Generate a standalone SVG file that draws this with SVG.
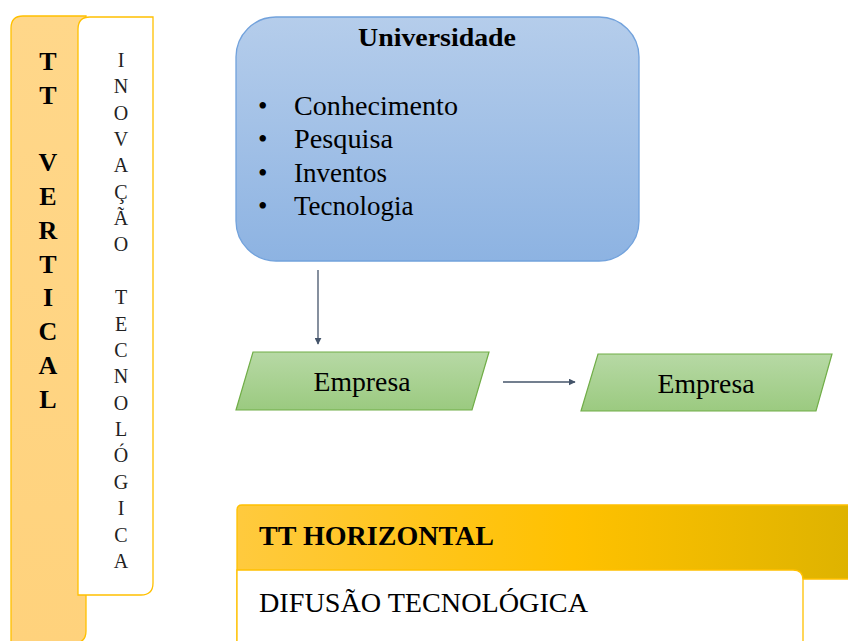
<svg xmlns="http://www.w3.org/2000/svg" width="848" height="641" viewBox="0 0 848 641">
<defs>
<linearGradient id="gBlue" x1="0" y1="0" x2="0" y2="1"><stop offset="0" stop-color="#B5CDEB"/><stop offset="1" stop-color="#8DB3E2"/></linearGradient>
<linearGradient id="gGreen" x1="0" y1="0" x2="0" y2="1"><stop offset="0" stop-color="#B7D9A5"/><stop offset="1" stop-color="#9BCA80"/></linearGradient>
<linearGradient id="gOrange" x1="0" y1="0" x2="0" y2="1"><stop offset="0" stop-color="#FFD78A"/><stop offset="1" stop-color="#FFD27C"/></linearGradient>
<linearGradient id="gGold" x1="0" y1="0" x2="1" y2="0"><stop offset="0" stop-color="#FFCA3E"/><stop offset="0.55" stop-color="#FFC100"/><stop offset="1" stop-color="#DEB300"/></linearGradient>
<marker id="arr" viewBox="0 0 10 10" refX="9" refY="5" markerWidth="7" markerHeight="7" markerUnits="userSpaceOnUse" orient="auto"><path d="M0,0 L10,5 L0,10 z" fill="#44546A"/></marker>
</defs>
<style>
.serif{font-family:"Liberation Serif","Times New Roman",serif;fill:#000}
.b{font-weight:bold}
.vt{font-size:26px;font-weight:bold;text-anchor:middle}
.vi{font-size:20px;text-anchor:middle;fill:#222}
.lst{font-size:27px}
.conn{stroke:#44546A;stroke-width:1.3;fill:none;marker-end:url(#arr)}
.para{fill:url(#gGreen);stroke:#70AD47;stroke-width:1.2}
.gold{stroke:#FFC000;stroke-width:1.3}
</style>
<rect width="848" height="641" fill="#fff"/>

<g id="tt-vertical">
<path d="M11,645 V28 Q11,16 23,16 H86 V631 Q86,643 74,643 Z" fill="url(#gOrange)" class="gold"/>
<g class="serif vt">
<text x="48" y="70">T</text>
<text x="48" y="104">T</text>
<text x="48" y="171">V</text>
<text x="48" y="205">E</text>
<text x="48" y="239">R</text>
<text x="48" y="273">T</text>
<text x="48" y="306">I</text>
<text x="48" y="340">C</text>
<text x="48" y="374">A</text>
<text x="48" y="408">L</text>
</g>
</g>

<g id="inovacao">
<path d="M78,595 V29 Q78,17 90,17 H153 V583 Q153,595 141,595 Z" fill="#fff" class="gold"/>
<g class="serif vi">
<text x="121" y="67">I</text>
<text x="121" y="93">N</text>
<text x="121" y="120">O</text>
<text x="121" y="146">V</text>
<text x="121" y="172">A</text>
<text x="121" y="199">Ç</text>
<text x="121" y="225">Ã</text>
<text x="121" y="251">O</text>
<text x="121" y="304">T</text>
<text x="121" y="331">E</text>
<text x="121" y="357">C</text>
<text x="121" y="383">N</text>
<text x="121" y="410">O</text>
<text x="121" y="436">L</text>
<text x="121" y="462">Ó</text>
<text x="121" y="489">G</text>
<text x="121" y="515">I</text>
<text x="121" y="542">C</text>
<text x="121" y="568">A</text>
</g>
</g>

<g id="universidade">
<rect x="236" y="17" width="403" height="244" rx="40" ry="40" fill="url(#gBlue)" stroke="#72A2DC" stroke-width="1.3"/>
<text x="437" y="46" class="serif b" font-size="25" text-anchor="middle" textLength="158" lengthAdjust="spacingAndGlyphs">Universidade</text>
<g class="serif lst">
<text x="258" y="115">•</text>
<text x="294" y="115" textLength="164" lengthAdjust="spacingAndGlyphs">Conhecimento</text>
<text x="258" y="148">•</text>
<text x="294" y="148" textLength="99" lengthAdjust="spacingAndGlyphs">Pesquisa</text>
<text x="258" y="182">•</text>
<text x="294" y="182">Inventos</text>
<text x="258" y="215">•</text>
<text x="294" y="215">Tecnologia</text>
</g>
</g>

<g id="empresa1">
<polygon points="253,352 489,352 472,410 236,410" class="para"/>
<text x="362" y="391" class="serif" font-size="27" text-anchor="middle" textLength="97" lengthAdjust="spacingAndGlyphs">Empresa</text>
</g>

<g id="empresa2">
<polygon points="598,354 832,354 816,411 581,411" class="para"/>
<text x="706" y="393" class="serif" font-size="27" text-anchor="middle" textLength="97" lengthAdjust="spacingAndGlyphs">Empresa</text>
</g>

<g id="connectors">
<line x1="318" y1="270" x2="318" y2="344" class="conn"/>
<line x1="503" y1="382" x2="575" y2="382" class="conn"/>
</g>

<g id="tt-horizontal">
<path d="M237,645 V510 Q237,505 242,505 H850 V579 H237" fill="url(#gGold)" class="gold"/>
<text x="259" y="545" class="serif b" font-size="27" textLength="235" lengthAdjust="spacingAndGlyphs">TT HORIZONTAL</text>
</g>

<g id="difusao">
<path d="M237,570 H793 Q803,570 803,580 V645 H237 Z" fill="#fff" class="gold"/>
<text x="259" y="612" class="serif" font-size="27" textLength="329" lengthAdjust="spacingAndGlyphs">DIFUSÃO TECNOLÓGICA</text>
</g>
</svg>
